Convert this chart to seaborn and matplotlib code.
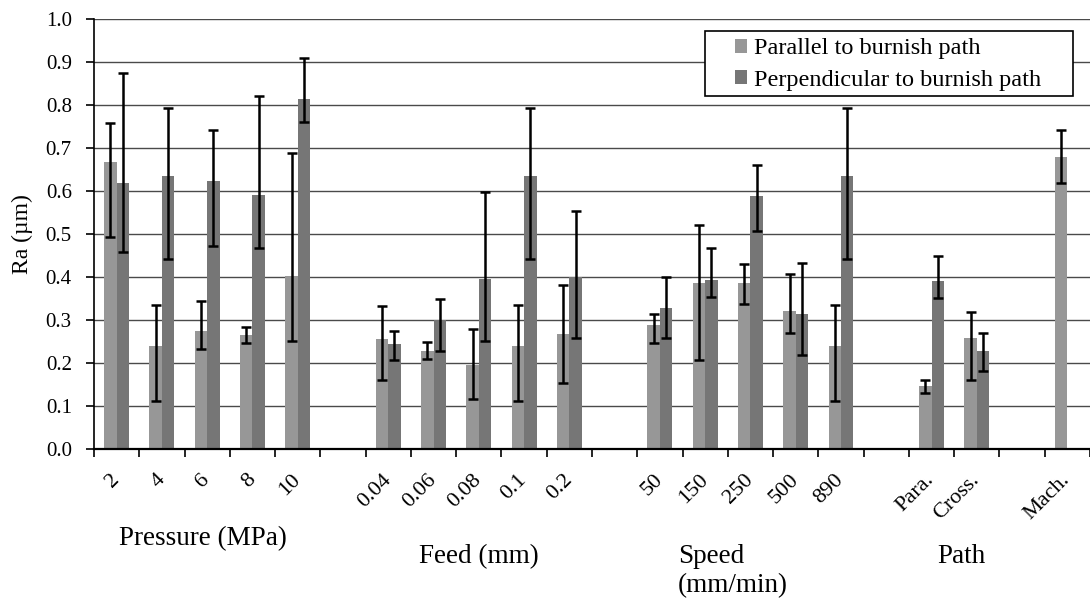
import numpy as np
import pandas as pd
import seaborn as sns
import matplotlib
matplotlib.use("Agg")
import matplotlib.pyplot as plt
from matplotlib.patches import Rectangle
from matplotlib.ticker import FormatStrFormatter

# ---------------- data ----------------
slot_keys = ["2", "4", "6", "8", "10", "_g1",
             "0.04", "0.06", "0.08", "0.1", "0.2", "_g2",
             "50", "150", "250", "500", "890", "_g3",
             "Para.", "Cross.", "_g4", "Mach."]
data_keys = [k for k in slot_keys if not k.startswith("_g")]

series_names = ["Parallel to burnish path", "Perpendicular to burnish path"]

par_vals = [0.668, 0.240, 0.274, 0.264, 0.403,
            0.256, 0.229, 0.196, 0.240, 0.267,
            0.288, 0.387, 0.386, 0.320, 0.240,
            0.146, 0.257, 0.679]
par_lo = [0.494, 0.111, 0.233, 0.247, 0.252,
          0.161, 0.210, 0.117, 0.111, 0.153,
          0.247, 0.206, 0.337, 0.269, 0.111,
          0.131, 0.161, 0.619]
par_hi = [0.758, 0.335, 0.345, 0.284, 0.688,
          0.333, 0.248, 0.279, 0.335, 0.381,
          0.314, 0.521, 0.430, 0.406, 0.335,
          0.161, 0.318, 0.742]

perp_vals = [0.619, 0.636, 0.623, 0.590, 0.814,
             0.244, 0.301, 0.395, 0.634, 0.399,
             0.329, 0.393, 0.588, 0.314, 0.634,
             0.391, 0.227, np.nan]
perp_lo = [0.459, 0.441, 0.471, 0.468, 0.760,
           0.206, 0.229, 0.252, 0.441, 0.257,
           0.257, 0.354, 0.508, 0.219, 0.441,
           0.351, 0.182, np.nan]
perp_hi = [0.874, 0.794, 0.743, 0.820, 0.909,
           0.274, 0.349, 0.598, 0.793, 0.553,
           0.400, 0.468, 0.660, 0.432, 0.793,
           0.448, 0.270, np.nan]

group_labels = ["Pressure (MPa)", "Feed (mm)", "Speed", "(mm/min)", "Path"]

# ---------------- build frame ----------------
rows = []
for name, vals, lo, hi in [(series_names[0], par_vals, par_lo, par_hi),
                           (series_names[1], perp_vals, perp_lo, perp_hi)]:
    for k, v, l, h in zip(data_keys, vals, lo, hi):
        if np.isfinite(v):
            rows.append({"setting": k, "Ra": v, "direction": name, "lo": l, "hi": h})
df = pd.DataFrame(rows)

# ---------------- plot ----------------
sns.set_theme(style="white")
plt.rcParams["font.family"] = ["Liberation Serif", "DejaVu Serif"]

fig = plt.figure(figsize=(10.9, 6.03), dpi=100)
ax = fig.add_axes([94 / 1090, (603 - 449) / 603, 996 / 1090, 430 / 603])

colors = ["#979797", "#767676"]
sns.barplot(data=df, x="setting", y="Ra", hue="direction",
            order=slot_keys, hue_order=series_names, palette=colors,
            width=0.55, gap=0, errorbar=None, saturation=1,
            linewidth=0, edgecolor="none", ax=ax, zorder=2)

# error bars from the data, placed on the drawn bars
for name, cont in zip(series_names, ax.containers):
    sub = df[df["direction"] == name].set_index("setting")
    for patch in cont:
        h = patch.get_height()
        if not np.isfinite(h):
            continue
        xc = patch.get_x() + patch.get_width() / 2
        key = slot_keys[int(round(xc))]
        if key not in sub.index:
            continue
        r = sub.loc[key]
        ax.errorbar(xc, r["Ra"], yerr=[[r["Ra"] - r["lo"]], [r["hi"] - r["Ra"]]],
                    fmt="none", ecolor="black", elinewidth=1.8, capsize=3.8,
                    capthick=1.8, zorder=4)

# axes styling
ax.set_ylim(0, 1.0)
ax.set_xlim(-0.5, -0.5 + 996 / 45.65)
ax.set_yticks(np.arange(0, 1.01, 0.1))
ax.yaxis.set_major_formatter(FormatStrFormatter("%.1f"))
ax.set_axisbelow(True)
ax.yaxis.grid(True, color="#4a4a4a", linewidth=1.0)
ax.xaxis.grid(False)

for s in ["top", "right"]:
    ax.spines[s].set_visible(False)
ax.spines["left"].set_color("black")
ax.spines["left"].set_linewidth(1.2)
ax.spines["bottom"].set_color("black")
ax.spines["bottom"].set_linewidth(1.6)

ax.set_xticks(range(len(slot_keys)))
ax.set_xticklabels(["" if k.startswith("_g") else k for k in slot_keys])
ax.set_xticks(np.arange(-0.5, len(slot_keys), 1), minor=True)
ax.tick_params(axis="x", which="major", length=0, pad=20, labelsize=16,
               bottom=True, colors="black")
ax.tick_params(axis="x", which="minor", length=6, width=1.2, bottom=True,
               direction="out", color="black")
ax.tick_params(axis="y", which="major", length=6, width=1.2, left=True,
               direction="out", pad=10, labelsize=15, color="black", labelcolor="black")
for lab in ax.get_xticklabels():
    lab.set_rotation(45)
    lab.set_ha("right")
    lab.set_va("center")
    lab.set_rotation_mode("anchor")

ax.set_xlabel("")
ax.set_ylabel("Ra (µm)", fontsize=17, color="black")
ax.yaxis.set_label_coords((33 - 94) / 996, 0.5)

# group labels
tr = ax.get_xaxis_transform()
ax.text(1.9, (449 - 545) / 430, group_labels[0], transform=tr, ha="center",
        va="baseline", fontsize=19.5, color="black")
ax.text(8.0, (449 - 563) / 430, group_labels[1], transform=tr, ha="center",
        va="baseline", fontsize=19.5, color="black")
ax.text(12.4, (449 - 563) / 430, group_labels[2], transform=tr, ha="left",
        va="baseline", fontsize=19.5, color="black")
ax.text(12.4, (449 - 592) / 430, group_labels[3], transform=tr, ha="left",
        va="baseline", fontsize=19.5, color="black")
ax.text(18.67, (449 - 563) / 430, group_labels[4], transform=tr, ha="center",
        va="baseline", fontsize=19.5, color="black")

# legend
handles = ax.get_legend().legend_handles
ax.get_legend().remove()
ax.add_patch(Rectangle((0.6135, 0.8216), 0.3695, 0.1504, transform=ax.transAxes,
                       facecolor="white", edgecolor="black", linewidth=1.2, zorder=5))
leg = ax.legend(handles, series_names, loc="upper left",
                bbox_to_anchor=((735 - 94) / 996, 0.955), frameon=False,
                fontsize=17.5, handlelength=0.5, handleheight=0.5,
                handletextpad=0.3, labelspacing=0.42, borderpad=0,
                borderaxespad=0)
leg.set_zorder(6)
for t in leg.get_texts():
    t.set_color("black")

fig.savefig("out.png", dpi=100)
